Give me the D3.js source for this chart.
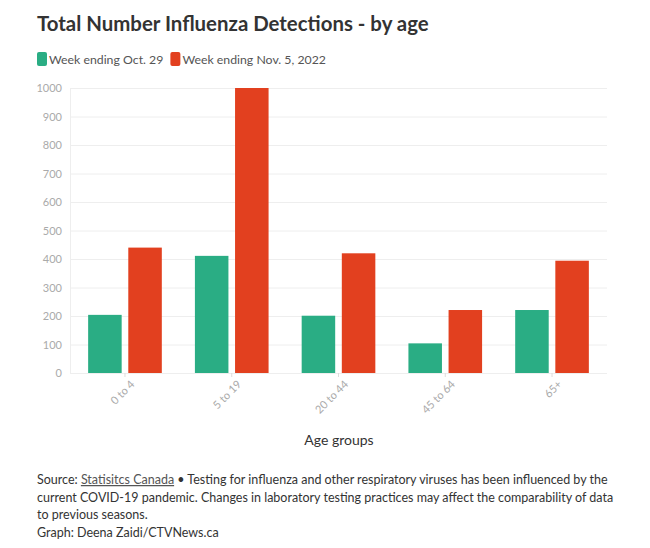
<!DOCTYPE html>
<html>
<head>
<meta charset="utf-8">
<script src="https://cdn.jsdelivr.net/npm/d3@7"></script>
<style>
  body { margin: 0; background: #fff; }
  text { font-family: Lato, "Open Sans", sans-serif; }
  .tick text { fill: #aaa; font-size: 11px; }
</style>
</head>
<body>
<div id="wrapper"></div>
<script>
// data
const ageGroups = ["0 to 4", "5 to 19", "20 to 44", "45 to 64", "65+"]
const weekOct29 = [204, 411, 201, 104, 221]
const weekNov5 = [440, 1000, 420, 221, 394]
const seriesNames = ["Week ending Oct. 29", "Week ending Nov. 5, 2022"]
const seriesColors = ["#2aad84", "#e2401f"]
const yTicks = [0, 100, 200, 300, 400, 500, 600, 700, 800, 900, 1000]

const footerLines = [
  "current COVID-19 pandemic. Changes in laboratory testing practices may affect the comparability of data",
  "to previous seasons.",
  "Graph: Deena Zaidi/CTVNews.ca",
]

const dataset = ageGroups.map((g, i) => ({
  group: g,
  values: [weekOct29[i], weekNov5[i]],
}))

const dimensions = {
  width: 650,
  height: 548,
  margin: { top: 88, right: 43, bottom: 175, left: 70 },
}
dimensions.boundedWidth = dimensions.width - dimensions.margin.left - dimensions.margin.right
dimensions.boundedHeight = dimensions.height - dimensions.margin.top - dimensions.margin.bottom

const wrapper = d3.select("#wrapper")
  .append("svg")
    .attr("width", dimensions.width)
    .attr("height", dimensions.height)
    .style("background", "#fff")

// title + legend
wrapper.append("text")
    .attr("x", 37)
    .attr("y", 31)
    .style("font-size", "20.4px")
    .style("font-weight", "bold")
    .style("fill", "#333")
    .text("Total Number Influenza Detections - by age")

const legend = wrapper.append("g")
let legendX = 37
seriesNames.forEach((name, i) => {
  legend.append("rect")
      .attr("x", legendX)
      .attr("y", 52)
      .attr("width", 10)
      .attr("height", 14)
      .attr("rx", 2)
      .style("fill", seriesColors[i])
  const t = legend.append("text")
      .attr("x", legendX + 12)
      .attr("y", 63.5)
      .style("font-size", "12.3px")
      .style("fill", "#555")
      .text(name)
  legendX += 12 + t.node().getComputedTextLength() + 7
})

const bounds = wrapper.append("g")
  .attr("transform", `translate(${dimensions.margin.left}, ${dimensions.margin.top})`)

// scales
const xScale = d3.scaleBand()
  .domain(ageGroups)
  .range([0, dimensions.boundedWidth])
  .paddingInner(0.31)
  .paddingOuter(0.17)

const xSub = d3.scaleBand()
  .domain([0, 1])
  .range([0, xScale.bandwidth()])
  .paddingInner(0.165)

const yScale = d3.scaleLinear()
  .domain([0, 1000])
  .range([dimensions.boundedHeight, 0])

// grid / y axis
const yAxisGenerator = d3.axisLeft()
  .scale(yScale)
  .tickValues(yTicks)
  .tickFormat(d3.format("d"))
  .tickSize(-dimensions.boundedWidth)
  .tickSizeOuter(0)
  .tickPadding(8)

const yAxis = bounds.append("g")
  .call(yAxisGenerator)
yAxis.select(".domain").style("stroke", "#eee")
yAxis.selectAll(".tick line").style("stroke", "#eee")

// bars
const groups = bounds.selectAll(".group")
  .data(dataset)
  .enter().append("g")
    .attr("class", "group")
    .attr("transform", d => `translate(${xScale(d.group)}, 0)`)

groups.selectAll("rect")
  .data(d => d.values)
  .enter().append("rect")
    .attr("x", (d, i) => xSub(i))
    .attr("width", xSub.bandwidth())
    .attr("y", d => yScale(d))
    .attr("height", d => dimensions.boundedHeight - yScale(d))
    .style("fill", (d, i) => seriesColors[i])

// x axis
const xAxisGenerator = d3.axisBottom()
  .scale(xScale)
  .tickSize(4)
  .tickSizeOuter(0)

const xAxis = bounds.append("g")
  .call(xAxisGenerator)
    .attr("transform", `translate(0, ${dimensions.boundedHeight})`)
xAxis.select(".domain").remove()
xAxis.selectAll(".tick line").style("stroke", "#ddd")
xAxis.selectAll(".tick text")
    .style("text-anchor", "end")
    .attr("dx", "-0.1em")
    .attr("dy", "0.8em")
    .attr("transform", "rotate(-45)")

wrapper.append("text")
    .attr("x", 339)
    .attr("y", 445)
    .style("text-anchor", "middle")
    .style("font-size", "14px")
    .style("fill", "#333")
    .text("Age groups")

// footer
const footerSize = "12.5px"
const footer = wrapper.append("text")
    .attr("x", 37)
    .attr("y", 484)
    .style("font-size", footerSize)
    .style("fill", "#333")
footer.append("tspan").text("Source: ")
footer.append("tspan")
    .style("text-decoration", "underline")
    .style("fill", "#555")
    .text("Statisitcs Canada")
footer.append("tspan").text(" • Testing for influenza and other respiratory viruses has been influenced by the")

footerLines.forEach((line, i) => {
  wrapper.append("text")
      .attr("x", 37)
      .attr("y", 484 + 17.7 * (i + 1))
      .style("font-size", footerSize)
      .style("fill", "#333")
      .text(line)
})
</script>
</body>
</html>
